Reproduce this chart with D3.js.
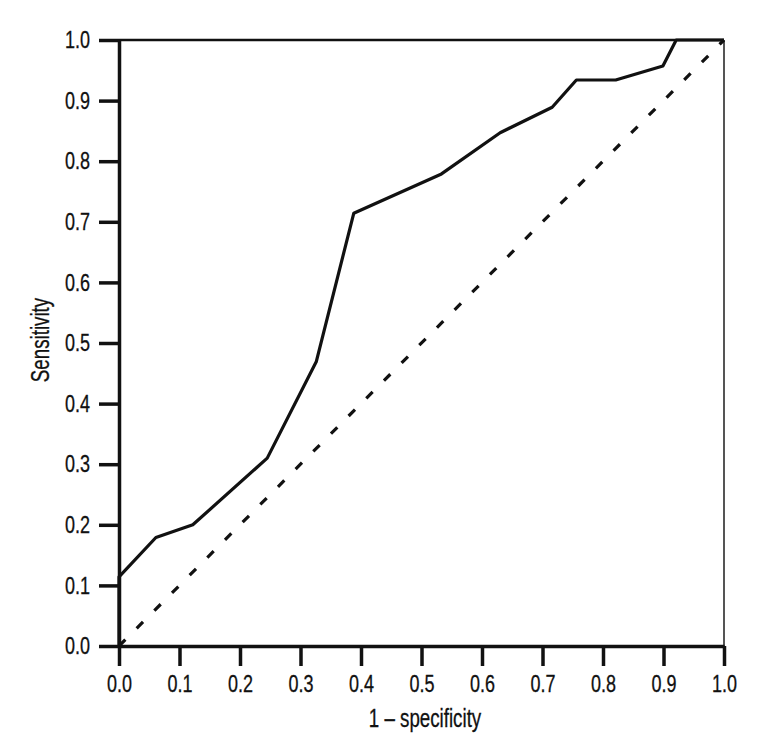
<!DOCTYPE html>
<html>
<head>
<meta charset="utf-8">
<script src="https://cdn.jsdelivr.net/npm/d3@7/dist/d3.min.js"></script>
<style>
  body { margin: 0; background: #fff; }
  text { font-family: "Liberation Sans", Arial, sans-serif; fill: #111; stroke: #111; stroke-width: 0.3px; }
</style>
</head>
<body>
<svg id="chart" width="768" height="744"></svg>
<script>
// ROC curve points
var fpr = [0, 0, 0.061, 0.122, 0.245, 0.326, 0.388, 0.533, 0.63, 0.716, 0.756, 0.821, 0.899, 0.921, 1];
var tpr = [0, 0.114, 0.179, 0.2, 0.31, 0.469, 0.714, 0.779, 0.847, 0.889, 0.934, 0.934, 0.957, 1, 1];
var tickValues = [0, 0.1, 0.2, 0.3, 0.4, 0.5, 0.6, 0.7, 0.8, 0.9, 1];
var xTitle = '1 \u2013 specificity';
var yTitle = 'Sensitivity';

var margin = { top: 40, left: 119 };
var width = 605;
var height = 606;
var tickLen = 20;
var tickPad = 9;
// no narrow font installed, so squeeze a regular one
var squeeze = 0.75;

var svg = d3.select('#chart');
var g = svg.append('g').attr('transform', `translate(${margin.left},${margin.top})`);

var x = d3.scaleLinear().domain([0, 1]).range([0, width]);
var y = d3.scaleLinear().domain([0, 1]).range([height, 0]);

// top and right frame
g.append('line')
  .attr('x1', 0).attr('x2', width).attr('y1', 0).attr('y2', 0)
  .attr('stroke', '#111').attr('stroke-width', 2.5);
g.append('line')
  .attr('x1', width).attr('x2', width).attr('y1', 0).attr('y2', height)
  .attr('stroke', '#555').attr('stroke-width', 2);

// chance diagonal
g.append('line')
  .attr('x1', x(0)).attr('y1', y(0)).attr('x2', x(1)).attr('y2', y(1))
  .attr('stroke', '#111')
  .attr('stroke-width', 3.2)
  .attr('stroke-dasharray', '9,16');

// ROC curve
var line = d3.line()
  .x(function (d, i) { return x(fpr[i]); })
  .y(function (d, i) { return y(tpr[i]); });

g.append('path')
  .datum(fpr)
  .attr('d', line)
  .attr('fill', 'none')
  .attr('stroke', '#111')
  .attr('stroke-width', 3.2)
  .attr('stroke-linejoin', 'round');

// axes
var fmt = d3.format('.1f');
var xAxis = g.append('g')
  .attr('transform', `translate(0,${height})`)
  .call(d3.axisBottom(x).tickValues(tickValues).tickFormat(fmt)
    .tickSize(tickLen).tickSizeOuter(0).tickPadding(tickPad));
var yAxis = g.append('g')
  .call(d3.axisLeft(y).tickValues(tickValues).tickFormat(fmt)
    .tickSize(tickLen).tickSizeOuter(0).tickPadding(tickPad));

[xAxis, yAxis].forEach(function (ax) {
  ax.attr('font-family', null).attr('font-size', null);
  ax.select('.domain').attr('stroke', '#111').attr('stroke-width', 3.5);
  ax.selectAll('.tick line').attr('stroke', '#111').attr('stroke-width', 3.5);
  ax.selectAll('.tick text').attr('font-size', 24).attr('fill', '#111')
    .attr('transform', `scale(${squeeze},1)`);
});
yAxis.selectAll('.tick text').attr('x', -(tickLen + tickPad) / squeeze);

// axis titles
svg.append('text')
  .attr('transform', `translate(425,727) scale(${squeeze},1)`)
  .attr('text-anchor', 'middle')
  .attr('font-size', 25)
  .text(xTitle);

svg.append('text')
  .attr('transform', `translate(49,340) rotate(-90) scale(${squeeze},1)`)
  .attr('text-anchor', 'middle')
  .attr('font-size', 25)
  .text(yTitle);
</script>
</body>
</html>
